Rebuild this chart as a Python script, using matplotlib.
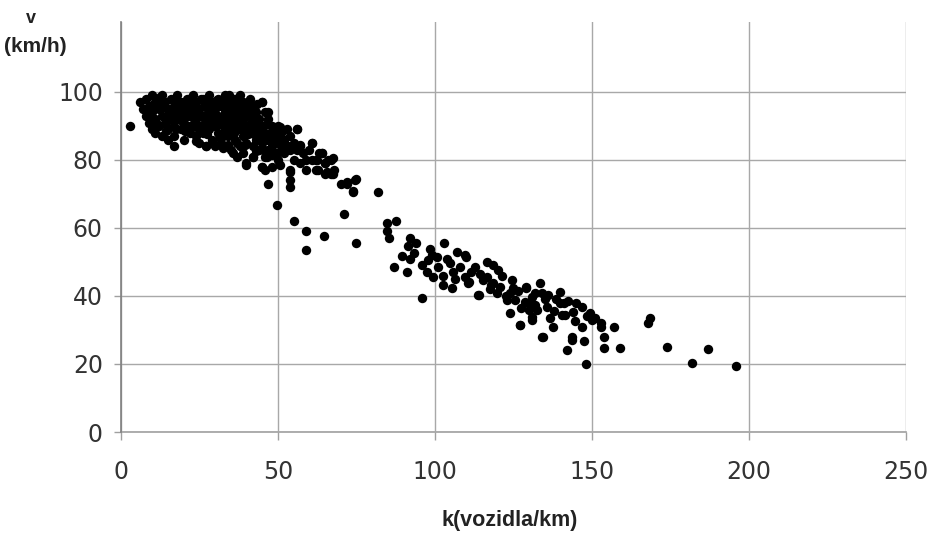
import matplotlib
matplotlib.use("Agg")
import matplotlib.pyplot as plt

# ---- data (density k [vozidla/km], speed v [km/h]) ----
core_k = [6, 7, 8, 8, 9, 9, 10, 10, 10, 11, 11, 11, 12, 12, 13, 13, 13, 14, 14, 15, 15, 15,
          16, 16, 17, 17, 17, 18, 18, 18, 19, 19, 20, 20, 20, 21, 21, 22, 22, 22, 23, 23, 24, 24, 24,
          25, 25, 25, 26, 26, 26, 27, 27, 27, 28, 28, 28, 29, 29, 29, 30, 30, 30, 31, 31, 31,
          32, 32, 32, 33, 33, 33, 34, 34, 34, 35, 35, 35, 36, 36, 36, 37, 37, 37, 37, 38, 38, 38,
          39, 39, 39, 39, 40, 40, 40, 40, 41, 41, 41, 42, 42, 42, 42, 43, 43, 43, 44, 44, 44,
          45, 45, 45, 45, 46, 46, 46, 47, 47, 47, 48, 48, 48, 49, 49, 50, 50, 50, 51, 51, 52, 52,
          53, 53, 54, 54, 54, 54, 55, 55, 56, 56, 57, 57, 58, 59, 59, 60, 61, 61, 62, 62, 63, 64,
          65, 65, 66, 67, 67, 68]
core_v = [97, 95, 93, 98, 96, 91, 99, 94, 89, 97, 92, 88, 95, 90, 99, 93, 87, 97, 91, 95, 89, 86,
          98, 93, 96, 90, 87, 99, 94, 92, 97, 89, 95, 91, 86, 98, 93, 96, 90, 88, 94, 99, 92, 97, 87,
          95, 90, 85, 98, 93, 88, 96, 91, 84, 99, 94, 89, 97, 92, 86, 95, 90, 84, 98, 93, 88,
          96, 91, 85, 99, 94, 89, 97, 92, 87, 95, 90, 83, 98, 93, 88, 96, 91, 85, 81, 99, 94, 89,
          97, 92, 87, 82, 95, 90, 85, 79, 98, 93, 88, 96, 91, 84, 81, 94, 89, 86, 92, 87, 83,
          97, 90, 85, 78, 94, 88, 81, 92, 86, 83, 90, 84, 78, 88, 82, 90, 86, 80, 88, 84, 86, 82,
          89, 84, 87, 83, 77, 74, 85, 80, 89, 83, 84, 79, 82, 80, 77, 83, 85, 80, 80, 77, 82, 82,
          79, 76, 80, 80, 76, 77]

fill_k = [8.5, 9.5, 10.5, 11.5, 12.5, 13.5, 14.5, 15.5, 16.5, 17.5, 18.5, 19.5, 20.5, 21.5, 22.5,
          23.5, 24.5, 25.5, 26.5, 27.5, 28.5, 29.5, 30.5, 31.5, 32.5, 33.5, 34.5, 35.5, 36.5, 37.5,
          38.5, 39.5, 40.5, 41.5, 42.5, 43.5, 44.5, 10.5, 12.5, 14.5, 16.5, 18.5, 20.5, 22.5, 24.5,
          26.5, 28.5, 30.5, 32.5, 34.5, 36.5, 38.5, 40.5, 42.5, 21.5, 23.5, 25.5, 27.5, 29.5, 31.5,
          33.5, 35.5, 37.5, 39.5, 41.5, 19.5, 24.0, 29.0, 34.0, 38.0, 43.0, 46.5, 48.5,
          31.0, 33.0, 35.0, 36.0, 37.5, 39.0, 40.5, 41.5, 43.5, 44.0, 46.0, 47.5, 49.0, 51.5,
          52.5, 48.0, 45.5, 26.0, 28.0, 34.5, 38.5, 42.0,
          22.0, 25.0, 27.0, 30.0, 32.0, 36.5, 39.5, 41.0, 43.0, 45.0]
fill_v = [94.5, 92.5, 96.5, 90.5, 97.5, 95.5, 88.5, 92.0, 94.5, 89.0, 96.5, 93.0, 88.5, 95.5, 92.5,
          96.5, 89.5, 93.0, 96.0, 87.5, 91.5, 94.5, 97.5, 90.5, 87.0, 96.5, 94.5, 92.0, 86.0, 93.5,
          91.0, 95.5, 87.5, 90.0, 93.0, 91.5, 89.5, 91.0, 98.5, 93.0, 91.5, 97.0, 89.0, 98.5, 94.5,
          90.5, 97.0, 92.5, 98.0, 88.5, 95.0, 96.5, 97.0, 87.5, 96.5, 90.5, 98.0, 93.5, 95.5, 86.5,
          91.5, 97.5, 98.5, 89.5, 95.0, 91.5, 85.5, 85.0, 84.5, 84.0, 82.5, 90.5, 87.0,
          96.0, 92.0, 97.0, 95.0, 97.5, 94.0, 96.0, 92.5, 96.5, 89.0, 86.5, 88.0, 85.5, 86.0,
          84.5, 81.5, 83.0, 90.0, 91.5, 99.0, 97.0, 93.5,
          89.0, 93.5, 88.0, 92.5, 87.5, 89.5, 84.5, 90.5, 91.5, 87.5]

mid_k = [3, 17, 45, 47, 56, 61, 57, 64, 67.5, 65, 62.4, 62.7, 65.6, 67.5, 70, 72, 74.5, 74,
         54, 54, 47, 49.6, 55, 71, 59, 64.6, 59, 75, 50.6, 52, 49.6, 46.5, 45, 50.6, 40, 42,
         35.7, 32.5, 27, 46, 75, 72, 74, 82, 84.7, 87.6, 84.7, 85.4, 92, 94, 91.4, 103, 98.4,
         89.5, 92, 87, 91, 97.8, 100.6, 97.4, 101, 99.4, 102.5, 104.8, 107, 110, 108, 105.7,
         102.5, 105.4, 109.5, 110.5, 112.7, 116.5, 118.5, 120, 116.5, 113.7, 119.7, 118, 96,
         93.5, 96.0, 99.0, 104.0, 106.5, 111.5, 114.5, 117.5]
mid_v = [90, 84, 97, 94, 89, 85, 84.5, 82, 80.6, 79, 80, 77, 76.5, 76, 73, 73.5, 74, 71,
         76.5, 72, 73, 66.8, 62, 64, 59, 57.5, 53.5, 55.5, 89.7, 84, 82, 81, 78, 78.5, 78.5, 81,
         82, 83.5, 84, 77, 74.4, 73, 70.6, 70.5, 61.5, 62, 59, 57, 57, 55.6, 54.7, 55.6, 53.8,
         51.8, 51, 48.5, 47, 50.6, 51.5, 47, 48.5, 45.6, 46, 49.7, 53, 51.5, 48.5, 47,
         43.2, 42.3, 45.6, 43.8, 48.5, 50, 49, 47.6, 45.6, 40.3, 40.9, 43.2, 39.4,
         52.5, 49.0, 52.0, 51.0, 45.0, 47.0, 46.5, 42.0]

tail_k = [109.5, 111, 114, 115.3, 118.5, 120.7, 124.5, 124, 123, 125.5, 129, 128.7, 124, 127,
          130.9, 133.4, 134, 131.8, 135.7, 136, 136.6, 139.8, 139.8, 140.4, 134.4, 144, 145,
          143.6, 127, 131, 130, 132.5, 129, 130, 130.9, 137.6, 141.4, 147, 149.4, 151, 153,
          157, 148, 168, 168.5, 174, 182, 187, 196, 159, 154, 154, 142, 143.6, 147.5, 134,
          146.8, 153, 125, 121.5, 126.5, 138.5, 142.5, 150,
          122.5, 127.5, 132.0, 135.0, 138.0, 141.0, 144.5, 148.5]
tail_v = [52, 44, 40.3, 44.7, 43.8, 42.6, 44.7, 40.9, 38.8, 38.8, 42.3, 38.2, 35, 31.5,
          33.8, 43.8, 40.9, 37.4, 36.8, 40.3, 33.5, 41.2, 37.9, 34.4, 28, 35.3, 37.9,
          28, 31.5, 39.7, 36, 36, 42.6, 37.9, 32.9, 31, 34.4, 36.8, 35, 33.5, 32,
          31, 20, 32, 33.5, 25, 20.3, 24.4, 19.4, 24.7, 24.7, 28, 24, 27, 26.8, 28,
          31, 31, 42.3, 46, 41.5, 39, 38.5, 33,
          40.0, 36.5, 41.0, 39.0, 35.5, 38.0, 32.5, 34.0]

k_vals = core_k + fill_k + mid_k + tail_k
v_vals = core_v + fill_v + mid_v + tail_v

x_ticks = [0, 50, 100, 150, 200, 250]
y_ticks = [0, 20, 40, 60, 80, 100]

# ---- figure ----
fig = plt.figure(figsize=(9.3, 5.34), dpi=100)
ax = fig.add_axes([0.130, 0.191, 0.844, 0.768])
ax.scatter(k_vals, v_vals, s=46, color="black", linewidths=0, zorder=3)

ax.set_xlim(0, 250)
ax.set_ylim(0, 120.6)
ax.set_xticks(x_ticks)
ax.set_yticks(y_ticks)
ax.grid(True, color="#a8a8a8", linewidth=1.0)
for s in ["top", "right", "bottom"]:
    ax.spines[s].set_visible(False)
ax.spines["left"].set_color("#808080")
ax.spines["left"].set_linewidth(1.2)
ax.axhline(0, color="#a0a0a0", linewidth=1.2, clip_on=False, zorder=1)

ax.tick_params(axis="x", length=6, width=1, color="#a0a0a0", pad=14,
               labelsize=17, labelcolor="#333333")
ax.tick_params(axis="y", length=5, width=1, color="#a0a0a0", pad=8,
               labelsize=17, labelcolor="#333333")
for lab in ax.get_xticklabels() + ax.get_yticklabels():
    lab.set_family("DejaVu Sans")

fig.text(0.548, 0.005, "k(vozidla/km)", ha="center", va="bottom",
         fontsize=15.5, fontweight="bold", family="Liberation Sans", color="#222222")
fig.text(0.033, 0.966, "v", ha="center", va="center",
         fontsize=13, fontweight="bold", family="Liberation Sans", color="#222222")
fig.text(0.038, 0.913, "(km/h)", ha="center", va="center",
         fontsize=15, fontweight="bold", family="Liberation Sans", color="#222222")

fig.savefig("out.png", dpi=100)
